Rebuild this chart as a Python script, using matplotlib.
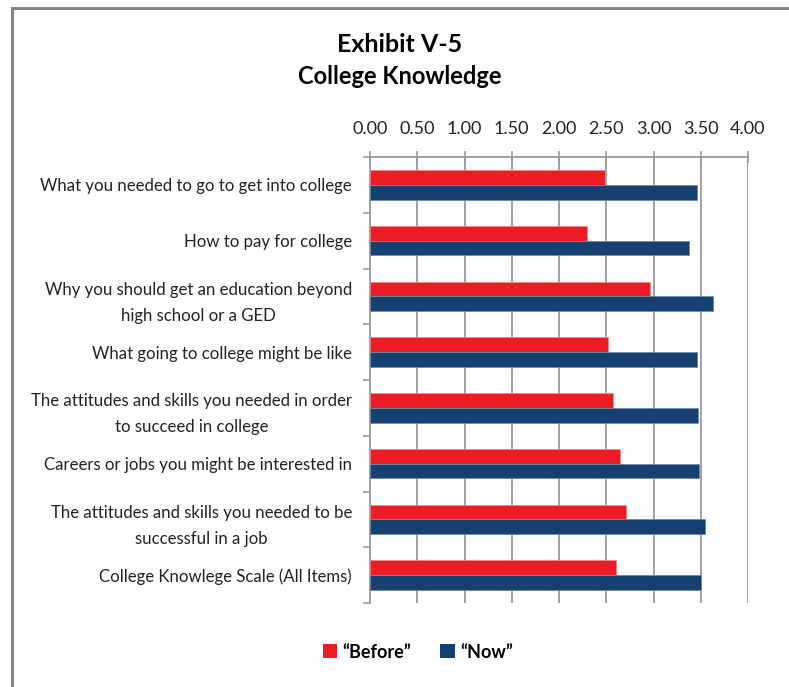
import matplotlib.pyplot as plt
import numpy as np
from matplotlib.patches import Patch, Rectangle

plt.rcParams['font.family'] = ['Lato', 'DejaVu Sans']

categories = [
    'What you needed to go to get into college',
    'How to pay for college',
    'Why you should get an education beyond\nhigh school or a GED',
    'What going to college might be like',
    'The attitudes and skills you needed in order\nto succeed in college',
    'Careers or jobs you might be interested in',
    'The attitudes and skills you needed to be\nsuccessful in a job',
    'College Knowlege Scale (All Items)',
]
before = [2.49, 2.30, 2.96, 2.52, 2.57, 2.65, 2.71, 2.60]
now = [3.46, 3.38, 3.63, 3.46, 3.47, 3.48, 3.55, 3.50]
xticks = [0, 0.5, 1.0, 1.5, 2.0, 2.5, 3.0, 3.5, 4.0]

red = '#ED1C24'
blue = '#15406F'
grey = '#9A9A9A'

fig = plt.figure(figsize=(7.89, 6.87), dpi=100)
ax = fig.add_axes([370 / 789, 1 - 603 / 687, 378 / 789, 446 / 687])

# outer frame (only left and top edges fall inside the picture)
fig.patches.append(Rectangle((12 / 789, -0.1), 1.2, 1.1 - 8 / 687,
                             transform=fig.transFigure, fill=False,
                             edgecolor='#858585', linewidth=2.2))

y = np.arange(len(categories))
h = 0.265
ax.barh(y - h / 2, before, h, color=red, edgecolor='#F2868A', linewidth=0.6, zorder=3)
ax.barh(y + h / 2, now, h, color=blue, edgecolor='#6E87A8', linewidth=0.6, zorder=3)

ax.set_xlim(0, 4.0)
ax.set_ylim(len(categories) - 0.5, -0.5)
ax.set_xticks(xticks)
ax.set_xticklabels([f'{v:.2f}' for v in xticks], fontsize=13, color='#222222')
ax.xaxis.tick_top()
ax.tick_params(axis='x', direction='inout', length=9, width=1.2, color=grey, pad=10)
ax.grid(axis='x', color=grey, linewidth=1.3, zorder=0)

ax.set_yticks(y)
ax.set_yticklabels(categories, fontsize=12.1, color='#222222',
                   multialignment='center', linespacing=1.75)
ax.set_yticks(np.arange(len(categories) + 1) - 0.5, minor=True)
ax.tick_params(axis='y', which='major', length=0, pad=13)
ax.tick_params(axis='y', which='minor', length=5, width=1.2, color=grey, direction='out')

for s in ['right', 'bottom']:
    ax.spines[s].set_visible(False)
for s in ['top', 'left']:
    ax.spines[s].set_color(grey)
    ax.spines[s].set_linewidth(1.3)

fig.text(400 / 789, 1 - 45 / 687, 'Exhibit V-5', ha='center', va='center',
         fontsize=18, fontweight='bold')
fig.text(400 / 789, 1 - 76 / 687, 'College Knowledge', ha='center', va='center',
         fontsize=17, fontweight='bold')

handles = [Patch(facecolor=red), Patch(facecolor=blue)]
fig.legend(handles, ['\u201cBefore\u201d', '\u201cNow\u201d'], loc='center',
           bbox_to_anchor=(418 / 789, 1 - 652 / 687), ncol=2, frameon=False,
           prop={'weight': 'bold', 'size': 13}, handlelength=0.8, handleheight=0.8,
           handletextpad=0.3, columnspacing=1.6)

fig.savefig('out.png', dpi=100, facecolor='white')
